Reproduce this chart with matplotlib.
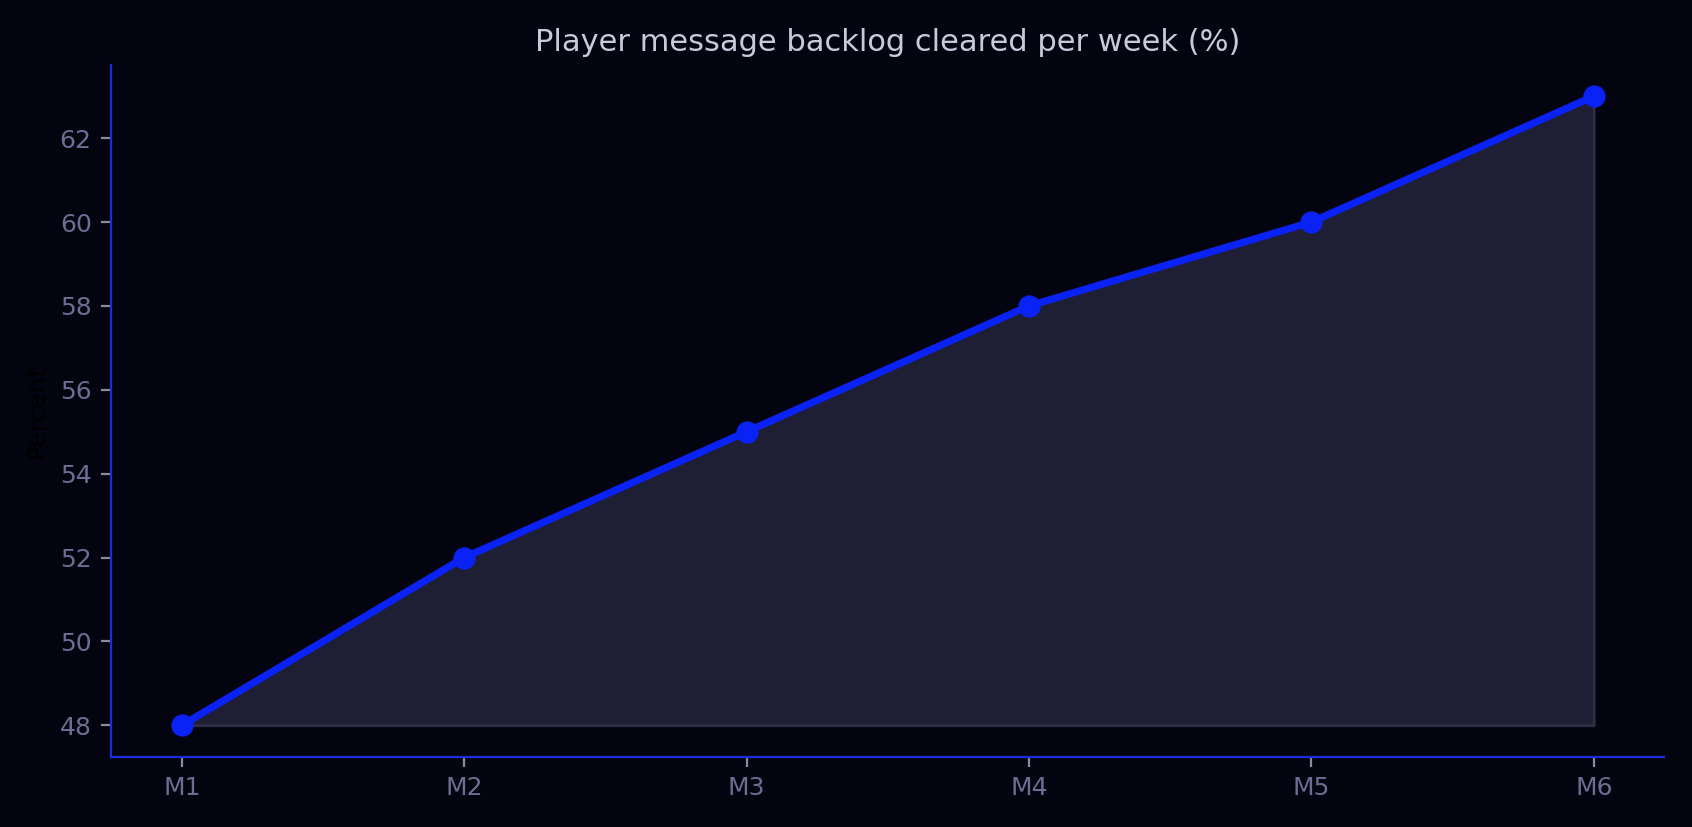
import matplotlib
matplotlib.use("Agg")
import matplotlib.pyplot as plt

categories = ["M1", "M2", "M3", "M4", "M5", "M6"]
values = [48, 52, 55, 58, 60, 63]
title = "Player message backlog cleared per week (%)"
ylabel = "Percent"

bg = "#03040f"
line_c = "#0a22f5"
spine_c = "#1a2ee0"
tick_c = "#6e6c92"

fig = plt.figure(figsize=(8.46, 4.135), dpi=200, facecolor=bg)
ax = fig.add_axes([0.0657, 0.0849, 0.918, 0.8368])
ax.set_facecolor(bg)
x = list(range(len(categories)))
ax.fill_between(x, values, min(values), color="#2a2a45", alpha=0.7, linewidth=1.0, edgecolor="#3a3a55")
ax.plot(x, values, color=line_c, linewidth=2.6, marker="o", markersize=7, zorder=3)
ax.set_xticks(x)
ax.set_xticklabels(categories)
ax.set_yticks([48, 50, 52, 54, 56, 58, 60, 62])
for s in ["top", "right"]:
    ax.spines[s].set_visible(False)
for s in ["left", "bottom"]:
    ax.spines[s].set_color(spine_c)
    ax.spines[s].set_linewidth(0.8)
ax.tick_params(colors=tick_c, labelsize=9, length=3.5, width=0.8)
ax.tick_params(axis="both", color="#8a8aa0")
ax.set_title(title, color="#c8cadc", fontsize=11, pad=4.8)
ax.set_ylabel(ylabel, color="#000000", fontsize=9)
fig.savefig("out.png", dpi=200, facecolor=bg)
